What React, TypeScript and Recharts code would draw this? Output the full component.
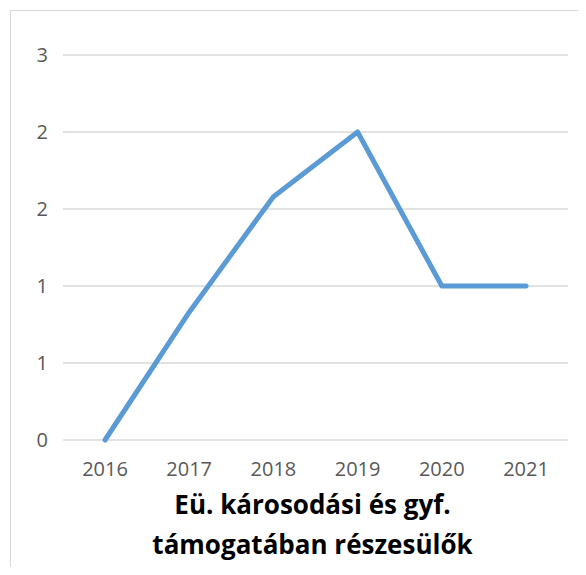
import { LineChart, Line, XAxis, YAxis, CartesianGrid } from 'recharts';

const years = ['2016', '2017', '2018', '2019', '2020', '2021'];
const values = [0, 0.83, 1.58, 2, 1, 1];
const yTicks = [0, 0.5, 1, 1.5, 2, 2.5];
const titleLines = ['Eü. károsodási és gyf.', 'támogatában részesülők'];

const data = years.map((year, i) => ({ year, value: values[i] }));

const FONT = '"Open Sans", "Noto Sans", sans-serif';

const TitleLabel = (props: any) => {
    const vb = props.viewBox || {};
    const cx = vb.x + vb.width / 2 - 3;
    const bottom = vb.y + vb.height;
    return (
        <text
            x={cx}
            y={bottom}
            textAnchor="middle"
            fill="#000000"
            fontFamily={FONT}
            fontWeight="bold"
            fontSize={26}
        >
            <tspan x={cx} dy={44}>{titleLines[0]}</tspan>
            <tspan x={cx} dy={40}>{titleLines[1]}</tspan>
        </text>
    );
};

export default function App() {
    return (
        <div style={{ position: 'relative', width: 570, height: 559, overflow: 'hidden' }}>
            {/* chart frame, only top/left edges are visible in the window */}
            <div
                style={{
                    position: 'absolute',
                    left: 2,
                    top: 2,
                    width: 640,
                    height: 640,
                    border: '1px solid #D9D9D9',
                    boxSizing: 'border-box',
                }}
            />
            <LineChart
                width={570}
                height={559}
                data={data}
                margin={{ top: 47, right: 10, bottom: 97, left: 0 }}
                style={{ position: 'absolute', left: 0, top: 0 }}
            >
                <CartesianGrid vertical={false} stroke="#D9D9D9" strokeWidth={1.5} />
                <XAxis
                    dataKey="year"
                    height={30}
                    axisLine={false}
                    tickLine={false}
                    tickSize={0}
                    tickMargin={22}
                    padding={{ left: 42, right: 42 }}
                    tick={{ fill: '#595959', fontSize: 20, fontFamily: FONT }}
                    label={<TitleLabel />}
                />
                <YAxis
                    width={55}
                    domain={[0, 2.5]}
                    ticks={yTicks}
                    interval={0}
                    axisLine={false}
                    tickLine={false}
                    tickSize={0}
                    tickMargin={15}
                    tickFormatter={(v: number) => String(Math.round(v))}
                    tick={{ fill: '#595959', fontSize: 20, fontFamily: FONT }}
                />
                <Line
                    type="linear"
                    dataKey="value"
                    stroke="#5B9BD5"
                    strokeWidth={5}
                    strokeLinecap="round"
                    strokeLinejoin="round"
                    dot={false}
                    activeDot={false}
                    isAnimationActive={false}
                />
            </LineChart>
        </div>
    );
}
